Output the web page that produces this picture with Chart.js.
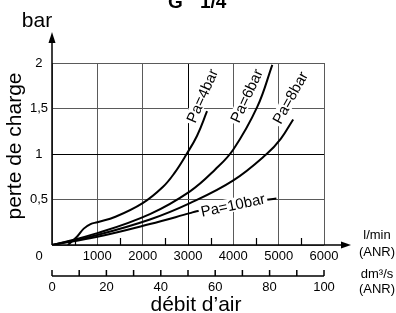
<!DOCTYPE html>
<html>
<head>
<meta charset="utf-8">
<script src="https://cdn.jsdelivr.net/npm/chart.js@4.4.0/dist/chart.umd.min.js"></script>
<style>
  html, body { margin: 0; padding: 0; background: #fff; }
  #wrap { width: 396px; height: 313px; }
</style>
</head>
<body>
<div id="wrap"><canvas id="chart" width="396" height="313"></canvas></div>
<script>
const FONT = '"Liberation Sans", Arial, sans-serif';

// Flow in l/min (ANR) and pressure drop in bar
const pa4Flow = [350, 550, 700, 850, 1000, 1400, 2000, 2450, 2700, 2970, 3200, 3420];
const pa4Drop = [0, 0.09, 0.18, 0.23, 0.25, 0.31, 0.46, 0.64, 0.79, 1.0, 1.2, 1.47];

const pa6Flow = [0, 1000, 2160, 3044, 3600, 4000, 4530, 4860];
const pa6Drop = [0, 0.13, 0.34, 0.59, 0.83, 1.05, 1.52, 1.98];

const pa8Flow = [0, 1000, 2160, 3044, 4000, 4735, 5050, 5320];
const pa8Drop = [0, 0.11, 0.28, 0.46, 0.71, 1.0, 1.17, 1.38];

const pa10Flow = [0, 1000, 2160, 3044, 3190, 4000, 4500, 4950];
const pa10Drop = [0, 0.09, 0.23, 0.35, 0.37, 0.44, 0.48, 0.51];

// Axis ticks
const yTickLabels = {0: '', 0.5: '0,5', 1: '1', 1.5: '1,5', 2: '2'};
const minorFlowTicks = [500, 1500, 2500, 3500, 4500, 5500];
const dmTicks = [0, 10, 20, 30, 40, 50, 60, 70, 80, 90, 100];
const dmLabels = [0, 20, 40, 60, 80, 100];

// Curve labels, anchored in data units
const curveLabels = [
  {text: 'Pa=4bar', flow: 3310, drop: 1.64, angle: -66},
  {text: 'Pa=6bar', flow: 4290, drop: 1.64, angle: -65},
  {text: 'Pa=8bar', flow: 5250, drop: 1.62, angle: -61},
  {text: 'Pa=10bar', flow: 3990, drop: 0.44, angle: -12}
];

const toPoints = (xs, ys) => xs.map((x, i) => ({x: x, y: ys[i]}));

const curve = (pts) => ({
  data: pts,
  borderColor: '#000',
  borderWidth: 2,
  pointRadius: 0,
  fill: false,
  tension: 0.4
});

// Extra drawing: curve tags, axis arrows, second flow axis, titles
const overlay = {
  id: 'overlay',
  afterDatasetsDraw(chart) {
    const ctx = chart.ctx;
    const xs = chart.scales.x, ys = chart.scales.y;
    ctx.save();
    ctx.font = '15px ' + FONT;
    curveLabels.forEach(l => {
      const w = ctx.measureText(l.text).width;
      ctx.save();
      ctx.translate(xs.getPixelForValue(l.flow), ys.getPixelForValue(l.drop));
      ctx.rotate(l.angle * Math.PI / 180);
      ctx.fillStyle = '#fff';
      ctx.fillRect(-w / 2 - 2, -7, w + 4, 14);
      ctx.fillStyle = '#000';
      ctx.textAlign = 'center';
      ctx.textBaseline = 'middle';
      ctx.fillText(l.text, 0, 1);
      ctx.restore();
    });
    ctx.restore();
  },
  afterDraw(chart) {
    const ctx = chart.ctx;
    const xs = chart.scales.x;
    const a = chart.chartArea;
    ctx.save();
    ctx.strokeStyle = '#000';
    ctx.fillStyle = '#000';
    ctx.lineWidth = 1.5;

    // main axes with arrows
    ctx.beginPath();
    ctx.moveTo(a.left, a.bottom);
    ctx.lineTo(343, a.bottom);
    ctx.moveTo(a.left, a.bottom);
    ctx.lineTo(a.left, 42);
    ctx.stroke();
    ctx.beginPath();
    ctx.moveTo(351, a.bottom);
    ctx.lineTo(341, a.bottom - 3.5);
    ctx.lineTo(341, a.bottom + 3.5);
    ctx.closePath();
    ctx.fill();
    ctx.beginPath();
    ctx.moveTo(a.left, 32);
    ctx.lineTo(a.left - 3.5, 43);
    ctx.lineTo(a.left + 3.5, 43);
    ctx.closePath();
    ctx.fill();

    // minor ticks on the l/min axis
    ctx.lineWidth = 1.2;
    ctx.beginPath();
    minorFlowTicks.forEach(v => {
      const px = Math.round(xs.getPixelForValue(v)) + 0.5;
      ctx.moveTo(px, a.bottom);
      ctx.lineTo(px, a.bottom - 7);
    });
    ctx.stroke();

    // dm3/s axis (100 dm3/s = 6000 l/min)
    const dmY = 276;
    ctx.lineWidth = 1.5;
    ctx.beginPath();
    ctx.moveTo(xs.getPixelForValue(0), dmY);
    ctx.lineTo(xs.getPixelForValue(6000), dmY);
    dmTicks.forEach(v => {
      const px = xs.getPixelForValue(v * 60);
      ctx.moveTo(px, dmY);
      ctx.lineTo(px, dmY - 6);
    });
    ctx.stroke();

    ctx.font = '13px ' + FONT;
    ctx.textAlign = 'center';
    ctx.textBaseline = 'middle';
    dmLabels.forEach(v => ctx.fillText(String(v), xs.getPixelForValue(v * 60), 287));

    // shared origin label
    ctx.fillText('0', 39, 256);

    // unit labels on the right
    ctx.fillText('l/min', 377, 235);
    ctx.fillText('(ANR)', 377, 252);
    ctx.fillText('dm³/s', 377, 274);
    ctx.fillText('(ANR)', 377, 289);

    // axis titles
    ctx.font = '21px ' + FONT;
    ctx.textBaseline = 'alphabetic';
    ctx.fillText('bar', 37, 27);
    ctx.fillText('débit d’air', 196, 311);
    ctx.save();
    ctx.translate(21, 146);
    ctx.rotate(-Math.PI / 2);
    ctx.fillText('perte de charge', 0, 0);
    ctx.restore();

    // title, cut off at the top edge
    ctx.font = 'bold 19px ' + FONT;
    ctx.textAlign = 'left';
    ctx.fillText('G', 168, 8);
    ctx.fillText('1/4', 200, 8);
    ctx.restore();
  }
};

new Chart(document.getElementById('chart'), {
  type: 'line',
  data: {
    datasets: [
      curve(toPoints(pa4Flow, pa4Drop)),
      curve(toPoints(pa6Flow, pa6Drop)),
      curve(toPoints(pa8Flow, pa8Drop)),
      curve(toPoints(pa10Flow, pa10Drop))
    ]
  },
  options: {
    responsive: false,
    animation: false,
    devicePixelRatio: 1,
    layout: {padding: {top: 63, right: 72, left: 0, bottom: 0}},
    plugins: {legend: {display: false}, tooltip: {enabled: false}, title: {display: false}},
    scales: {
      x: {
        type: 'linear',
        min: 0,
        max: 6000,
        afterFit: (s) => { s.height = 68; },
        border: {display: false},
        grid: {
          drawTicks: false,
          lineWidth: 1,
          color: (c) => (c.tick && c.tick.value === 3000) ? '#000' : '#5a5a5a'
        },
        ticks: {
          stepSize: 1000,
          autoSkip: false,
          maxRotation: 0,
          padding: 4,
          color: '#000',
          font: {family: FONT, size: 13},
          callback: (v) => v === 0 ? '' : String(v)
        }
      },
      y: {
        min: 0,
        max: 2,
        afterFit: (s) => { s.width = 52; },
        border: {display: false},
        grid: {
          drawTicks: false,
          lineWidth: 1,
          color: (c) => (c.tick && c.tick.value === 1) ? '#000' : '#5a5a5a'
        },
        ticks: {
          stepSize: 0.5,
          crossAlign: 'center',
          padding: 4,
          color: '#000',
          font: {family: FONT, size: 13},
          callback: (v) => yTickLabels[v] !== undefined ? yTickLabels[v] : ''
        }
      }
    }
  },
  plugins: [overlay]
});
</script>
</body>
</html>
